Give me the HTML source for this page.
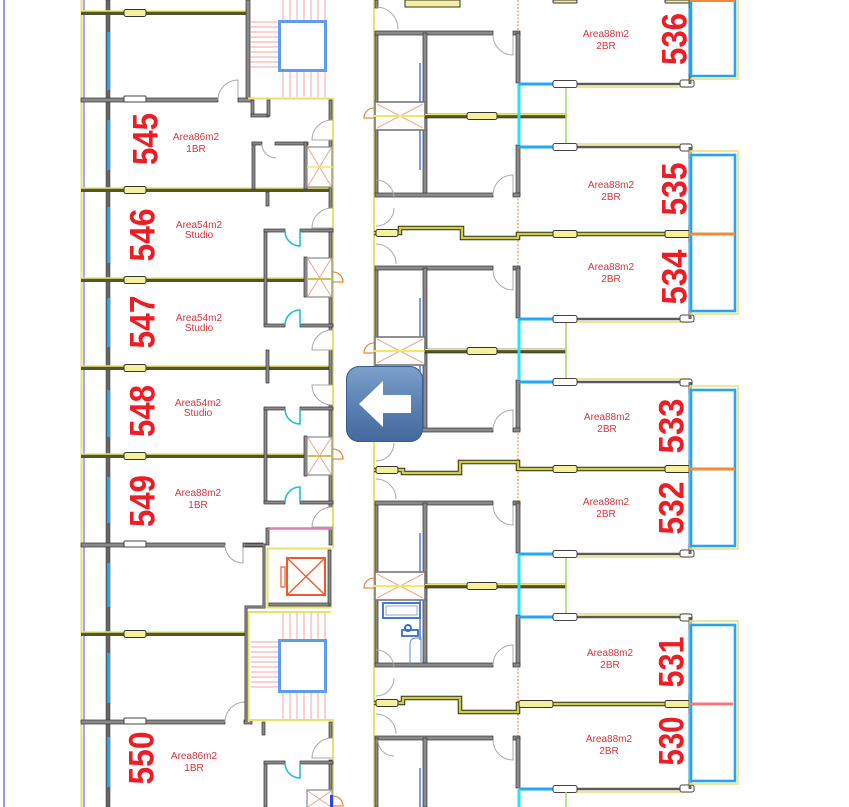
<!DOCTYPE html>
<html><head><meta charset="utf-8">
<style>
html,body{margin:0;padding:0;background:#fff;overflow:hidden;width:849px;height:807px;}
svg{display:block;}
.w{fill:#8a8a8a;stroke:#333;stroke-width:0.7;}
.door{fill:none;stroke:#aaa;stroke-width:1;}
.cyd{fill:none;stroke:#1ec0d6;stroke-width:1.6;}
.od{fill:none;stroke:#ef8a3a;stroke-width:1.3;}
.num{font-family:"Liberation Sans",sans-serif;font-weight:bold;font-size:35px;fill:#ee1c24;}
.ar{font-family:"Liberation Sans",sans-serif;font-size:10px;fill:#d8343c;text-anchor:middle;}
.win{fill:#f4f19a;stroke:#333;stroke-width:1;}
.winw{fill:#fff;stroke:#444;stroke-width:1;}
.rl{stroke:#f4a4a4;stroke-width:1;}
</style></head><body>
<svg width="849" height="807" viewBox="0 0 849 807" xmlns="http://www.w3.org/2000/svg">
<defs>
<linearGradient id="bg" x1="0" y1="0" x2="0" y2="1">
<stop offset="0" stop-color="#7ea1cb"/><stop offset="0.5" stop-color="#5a82b4"/><stop offset="1" stop-color="#44699c"/>
</linearGradient>
<g id="mod">
  <rect class="w" x="375" y="33" width="3" height="69"/>
  <rect class="w" x="375" y="130" width="3" height="65"/>
  <rect class="w" x="375" y="31" width="118" height="4"/>
  <path class="door" d="M493,35 A20,20 0 0 0 513,55 V35"/>
  <rect class="w" x="513" y="31" width="7" height="4"/>
  <rect class="w" x="423" y="33" width="4" height="162"/>
  <line x1="420" y1="63" x2="420" y2="170" stroke="#7c9ee0" stroke-width="2"/>
  <rect x="375" y="102" width="50" height="28" fill="#fff" stroke="#777" stroke-width="1.6"/>
  <line x1="377" y1="104" x2="423" y2="128" stroke="#f2a68a" stroke-width="1"/>
  <line x1="423" y1="104" x2="377" y2="128" stroke="#f2a68a" stroke-width="1"/>
  <line x1="374" y1="116" x2="425" y2="116" stroke="#f0ea60" stroke-width="2"/>
  <rect x="425" y="114" width="141" height="4" fill="#55552a" stroke="#2e2e14" stroke-width="0.6"/>
  <line x1="425" y1="114.5" x2="566" y2="114.5" stroke="#ebe66a" stroke-width="1.2"/>
  <rect class="win" x="467" y="112.5" width="30" height="7" rx="2"/>
  <line x1="519" y1="114" x2="519" y2="118" stroke="#333" stroke-width="3"/>
  <path class="od" d="M374,108 A10,10 0 0 0 364,118 L374,118"/>
  <rect class="w" x="516" y="33" width="4" height="50"/>
  <rect class="w" x="516" y="145" width="4" height="50"/>
  <line x1="519" y1="83" x2="519" y2="145" stroke="#22e2ff" stroke-width="3"/>
  <line x1="518" y1="195" x2="518" y2="268" stroke="#f6bfa0" stroke-width="2" stroke-dasharray="2,1.5"/>
  <line x1="566" y1="86" x2="566" y2="146" stroke="#a8dc70" stroke-width="1.6"/>
  <rect class="w" x="375" y="193" width="118" height="4"/>
  <path class="door" d="M493,195 A20,20 0 0 1 513,175 V195"/>
  <rect class="w" x="513" y="193" width="7" height="4"/>
  <path class="door" d="M376,180 A18,18 0 0 1 394,198"/>
  <path class="door" d="M376,226 A18,18 0 0 0 394,208"/>
  <path class="door" d="M376,244 A20,20 0 0 1 396,264"/>
</g>
<g id="pair">
  <line x1="566" y1="-3" x2="690" y2="-3" stroke="#e3e070" stroke-width="1.5"/>
  <line x1="519" y1="0" x2="553" y2="0" stroke="#1ea8ff" stroke-width="3"/>
  <line x1="577" y1="0" x2="690" y2="0" stroke="#5a5a5a" stroke-width="2.5"/>
  <rect class="winw" x="553" y="-3.5" width="24" height="7" rx="2"/>
  <rect class="winw" x="680" y="-3" width="12" height="7" rx="2"/>
  <line x1="519" y1="172" x2="553" y2="172" stroke="#1ea8ff" stroke-width="3"/>
  <line x1="577" y1="172" x2="690" y2="172" stroke="#5a5a5a" stroke-width="2.5"/>
  <line x1="566" y1="175" x2="690" y2="175" stroke="#e3e070" stroke-width="1.5"/>
  <rect class="winw" x="553" y="168.5" width="24" height="7" rx="2"/>
  <rect class="winw" x="680" y="168" width="14" height="7" rx="2"/>
  <line x1="690" y1="0" x2="690" y2="172" stroke="#666" stroke-width="3"/>
  <rect x="688.5" y="12" width="3" height="66" fill="#1e9cff"/>
  <rect x="688.5" y="96" width="3" height="66" fill="#1e9cff"/>
  <rect x="690" y="4" width="48" height="163" fill="none" stroke="#e6e070" stroke-width="1.5"/>
  <rect x="691" y="8" width="44" height="156" fill="none" stroke="#2aa2f2" stroke-width="2.6"/>
</g>
</defs>

<rect width="849" height="807" fill="#fff"/>

<!-- ============ LEFT BLOCK ============ -->
<line x1="4" y1="0" x2="4" y2="807" stroke="#7878ea" stroke-width="1.5"/>
<line x1="81.5" y1="0" x2="81.5" y2="807" stroke="#e6e26a" stroke-width="2"/>
<line x1="84" y1="0" x2="84" y2="807" stroke="#8a8af0" stroke-width="1.5"/>
<rect x="106" y="0" width="4" height="807" fill="#666" stroke="#333" stroke-width="0.5"/>
<g fill="#1aa8ff">
<rect x="107" y="32" width="3" height="58"/>
<rect x="107" y="120" width="3" height="50"/>
<rect x="107" y="207" width="3" height="56"/>
<rect x="107" y="298" width="3" height="49"/>
<rect x="107" y="390" width="3" height="47"/>
<rect x="107" y="477" width="3" height="46"/>
<rect x="107" y="563" width="3" height="44"/>
<rect x="107" y="653" width="3" height="50"/>
<rect x="107" y="737" width="3" height="50"/>
</g>

<g>
<rect x="81" y="11" width="167" height="4" fill="#55552a"/><line x1="81" y1="11" x2="248" y2="11" stroke="#ebe66a" stroke-width="1.4"/>
<rect x="81" y="188" width="252" height="4" fill="#55552a"/><line x1="81" y1="188" x2="333" y2="188" stroke="#ebe66a" stroke-width="1.4"/>
<rect x="81" y="278" width="252" height="4" fill="#55552a"/><line x1="81" y1="278" x2="333" y2="278" stroke="#ebe66a" stroke-width="1.4"/>
<rect x="81" y="366" width="252" height="4" fill="#55552a"/><line x1="81" y1="366" x2="333" y2="366" stroke="#ebe66a" stroke-width="1.4"/>
<rect x="81" y="454" width="252" height="4" fill="#55552a"/><line x1="81" y1="454" x2="333" y2="454" stroke="#ebe66a" stroke-width="1.4"/>
<rect x="81" y="632" width="167" height="4" fill="#55552a"/><line x1="81" y1="632" x2="248" y2="632" stroke="#ebe66a" stroke-width="1.4"/>
<rect class="win" x="124" y="9.5" width="22" height="7" rx="2"/>
<rect class="win" x="124" y="186.5" width="22" height="7" rx="2"/>
<rect class="win" x="124" y="276.5" width="22" height="7" rx="2"/>
<rect class="win" x="124" y="364.5" width="22" height="7" rx="2"/>
<rect class="win" x="124" y="452.5" width="22" height="7" rx="2"/>
<rect class="win" x="124" y="630.5" width="22" height="7" rx="2"/>
</g>

<rect class="w" x="81" y="98" width="137" height="4"/>
<rect class="winw" x="124" y="96" width="22" height="6" rx="1"/>
<path class="door" d="M218,100 A20,20 0 0 1 238,80 V100"/>
<rect class="w" x="238" y="98" width="14" height="4"/>
<rect class="w" x="81" y="543" width="144" height="4"/>
<rect class="winw" x="124" y="541" width="22" height="6" rx="1"/>
<path class="door" d="M225,545 A18,18 0 0 0 243,563 V545"/>
<rect class="w" x="243" y="543" width="20" height="4"/>
<rect class="w" x="81" y="720" width="144" height="4"/>
<rect class="winw" x="124" y="718" width="22" height="6" rx="1"/>
<path class="door" d="M225,722 A20,20 0 0 1 245,702 V722"/>
<rect class="w" x="244" y="720" width="8" height="4"/>

<!-- top stair -->
<rect class="w" x="246" y="0" width="4" height="98"/>
<g class="rl">
<line x1="283" y1="0" x2="283" y2="20"/><line x1="290" y1="0" x2="290" y2="20"/><line x1="297" y1="0" x2="297" y2="20"/><line x1="304" y1="0" x2="304" y2="20"/><line x1="311" y1="0" x2="311" y2="20"/><line x1="318" y1="0" x2="318" y2="20"/><line x1="325" y1="0" x2="325" y2="20"/>
<line x1="283" y1="71" x2="283" y2="97"/><line x1="290" y1="71" x2="290" y2="97"/><line x1="297" y1="71" x2="297" y2="97"/><line x1="304" y1="71" x2="304" y2="97"/><line x1="311" y1="71" x2="311" y2="97"/><line x1="318" y1="71" x2="318" y2="97"/><line x1="325" y1="71" x2="325" y2="97"/>
<line x1="251" y1="22" x2="278" y2="22"/><line x1="251" y1="27" x2="278" y2="27"/><line x1="251" y1="32" x2="278" y2="32"/><line x1="251" y1="37" x2="278" y2="37"/><line x1="251" y1="42" x2="278" y2="42"/><line x1="251" y1="47" x2="278" y2="47"/><line x1="251" y1="52" x2="278" y2="52"/><line x1="251" y1="57" x2="278" y2="57"/><line x1="251" y1="62" x2="278" y2="62"/><line x1="251" y1="67" x2="278" y2="67"/>
</g>
<rect x="279.5" y="21.5" width="46" height="49" fill="#fff" stroke="#5d9cf0" stroke-width="3"/>
<line x1="248" y1="98.5" x2="333" y2="98.5" stroke="#e6e26a" stroke-width="2"/>

<line x1="333" y1="98" x2="333" y2="548" stroke="#e6e26a" stroke-width="2"/>
<line x1="333" y1="719" x2="333" y2="807" stroke="#e6e26a" stroke-width="2"/>

<g class="w">
<rect x="329" y="100" width="3" height="20"/>
<rect x="329" y="140" width="3" height="68"/>
<rect x="329" y="228" width="3" height="102"/>
<rect x="329" y="350" width="3" height="35"/>
<rect x="329" y="405" width="3" height="102"/>
<rect x="329" y="527" width="3" height="18"/>
<rect x="329" y="722" width="3" height="16"/>
<rect x="329" y="760" width="3" height="47"/>
</g>
<g class="door">
<path d="M332,120 A20,20 0 0 0 312,140 H332"/>
<path d="M332,208 A20,20 0 0 0 312,228 H332"/>
<path d="M332,330 A20,20 0 0 0 312,350 H332"/>
<path d="M332,405 A20,20 0 0 1 312,385 H332"/>
<path d="M332,507 A20,20 0 0 0 312,527 H332"/>
<path d="M332,738 A20,20 0 0 0 312,758 H332"/>
</g>

<!-- 545 interior -->
<rect class="w" x="251" y="100" width="3" height="16"/>
<rect class="w" x="251" y="114" width="18" height="3"/>
<rect class="w" x="267" y="100" width="3" height="16"/>
<rect class="w" x="252" y="142" width="3" height="47"/>
<rect class="w" x="252" y="142" width="10" height="3"/>
<path class="door" d="M262,144 A14,14 0 0 0 276,158"/>
<rect class="w" x="275" y="142" width="33" height="3"/>
<rect class="w" x="304" y="142" width="3" height="47"/>
<!-- 546/547 -->
<rect class="w" x="264" y="230" width="3" height="95"/>
<rect class="w" x="264" y="229" width="21" height="3"/>
<rect class="w" x="300" y="229" width="33" height="3"/>
<path class="cyd" d="M285,231 A15,15 0 0 0 300,246 V231"/>
<rect class="w" x="264" y="324" width="21" height="3"/>
<rect class="w" x="300" y="324" width="33" height="3"/>
<path class="cyd" d="M285,325 A15,15 0 0 1 300,310 V325"/>
<rect class="w" x="304" y="257" width="3" height="40"/>
<rect class="w" x="266" y="192" width="3" height="14"/>
<rect class="w" x="266" y="350" width="3" height="33"/>
<!-- 548/549 -->
<rect class="w" x="264" y="408" width="3" height="95"/>
<rect class="w" x="264" y="407" width="21" height="3"/>
<rect class="w" x="300" y="407" width="33" height="3"/>
<path class="cyd" d="M285,409 A15,15 0 0 0 300,424 V409"/>
<rect class="w" x="264" y="501" width="21" height="3"/>
<rect class="w" x="300" y="501" width="33" height="3"/>
<path class="cyd" d="M285,502 A15,15 0 0 1 300,487 V502"/>
<rect class="w" x="304" y="436" width="3" height="40"/>
<line x1="268" y1="528" x2="333" y2="528" stroke="#e27ab4" stroke-width="1.5"/>
<rect class="w" x="266" y="528" width="3" height="17"/>
<!-- 550 -->
<rect class="w" x="264" y="762" width="3" height="45"/>
<rect class="w" x="264" y="761" width="21" height="3"/>
<rect class="w" x="300" y="761" width="33" height="3"/>
<path class="cyd" d="M285,763 A15,15 0 0 0 300,778 V763"/>
<rect class="w" x="262" y="722" width="3" height="13"/>

<!-- left ducts -->
<g>
<rect x="307" y="147" width="25" height="40" fill="#fff" stroke="#888" stroke-width="1.2"/>
<line x1="308" y1="148" x2="331" y2="186" stroke="#f2a68a"/><line x1="331" y1="148" x2="308" y2="186" stroke="#f2a68a"/>
<line x1="307" y1="167" x2="333" y2="167" stroke="#f0ea60" stroke-width="1.5"/>
<rect x="307" y="258" width="25" height="39" fill="#fff" stroke="#888" stroke-width="1.2"/>
<line x1="308" y1="259" x2="331" y2="296" stroke="#f2a68a"/><line x1="331" y1="259" x2="308" y2="296" stroke="#f2a68a"/>
<line x1="307" y1="279" x2="333" y2="279" stroke="#c9c44a" stroke-width="2"/>
<rect x="307" y="437" width="25" height="38" fill="#fff" stroke="#888" stroke-width="1.2"/>
<line x1="308" y1="438" x2="331" y2="474" stroke="#f2a68a"/><line x1="331" y1="438" x2="308" y2="474" stroke="#f2a68a"/>
<line x1="307" y1="456" x2="333" y2="456" stroke="#c9c44a" stroke-width="2"/>
<path d="M307,807 V790 H332 V807" fill="#fff" stroke="#888" stroke-width="1.2"/>
<line x1="308" y1="791" x2="331" y2="807" stroke="#f2a68a"/><line x1="331" y1="791" x2="308" y2="807" stroke="#f2a68a"/>
<rect x="330" y="795" width="3" height="12" fill="#3344dd"/>
</g>
<path class="od" d="M333,272 A10,10 0 0 1 343,282 H333"/>
<path class="od" d="M333,449 A10,10 0 0 1 343,459 H333"/>
<path class="od" d="M333,796 A10,10 0 0 1 343,806 H333"/>

<!-- elevator / bottom stair -->
<line x1="268" y1="529" x2="332" y2="529" stroke="#e27ab4" stroke-width="1.5"/>
<path d="M245,545 H264 V607 H246 V722" fill="none" stroke="#444" stroke-width="3"/>
<path d="M245,545 H264 V607 H246 V722" fill="none" stroke="#999" stroke-width="1.2"/>
<rect x="267.5" y="548.5" width="63" height="59" fill="none" stroke="#e6e26a" stroke-width="2"/>
<rect class="w" x="328" y="550" width="3" height="56"/>
<rect class="w" x="269" y="603" width="60" height="3"/>
<rect x="287" y="558" width="38" height="37" fill="none" stroke="#f05a28" stroke-width="2"/>
<line x1="287" y1="558" x2="325" y2="595" stroke="#f05a28" stroke-width="1.3"/>
<line x1="325" y1="558" x2="287" y2="595" stroke="#f05a28" stroke-width="1.3"/>
<rect x="281" y="567" width="4" height="20" fill="none" stroke="#f05a28" stroke-width="1.2"/>
<line x1="248" y1="612" x2="331" y2="612" stroke="#e6e26a" stroke-width="2"/>
<line x1="248.5" y1="612" x2="248.5" y2="722" stroke="#e6e26a" stroke-width="2"/>
<line x1="248" y1="720" x2="333" y2="720" stroke="#e6e26a" stroke-width="2"/>
<g class="rl">
<line x1="283" y1="613" x2="283" y2="639"/><line x1="290" y1="613" x2="290" y2="639"/><line x1="297" y1="613" x2="297" y2="639"/><line x1="304" y1="613" x2="304" y2="639"/><line x1="311" y1="613" x2="311" y2="639"/><line x1="318" y1="613" x2="318" y2="639"/><line x1="325" y1="613" x2="325" y2="639"/>
<line x1="283" y1="693" x2="283" y2="719"/><line x1="290" y1="693" x2="290" y2="719"/><line x1="297" y1="693" x2="297" y2="719"/><line x1="304" y1="693" x2="304" y2="719"/><line x1="311" y1="693" x2="311" y2="719"/><line x1="318" y1="693" x2="318" y2="719"/><line x1="325" y1="693" x2="325" y2="719"/>
<line x1="251" y1="642" x2="278" y2="642"/><line x1="251" y1="647" x2="278" y2="647"/><line x1="251" y1="652" x2="278" y2="652"/><line x1="251" y1="657" x2="278" y2="657"/><line x1="251" y1="662" x2="278" y2="662"/><line x1="251" y1="667" x2="278" y2="667"/><line x1="251" y1="672" x2="278" y2="672"/><line x1="251" y1="677" x2="278" y2="677"/><line x1="251" y1="682" x2="278" y2="682"/><line x1="251" y1="687" x2="278" y2="687"/>
</g>
<rect x="279.5" y="640.5" width="46" height="51" fill="#fff" stroke="#5d9cf0" stroke-width="3"/>

<!-- ============ RIGHT BLOCK ============ -->
<line x1="374" y1="0" x2="374" y2="807" stroke="#e6e26a" stroke-width="2"/>
<rect x="405" y="0" width="55" height="7" fill="#f4f19a" stroke="#333" stroke-width="1"/>
<rect class="w" x="375" y="0" width="3" height="8"/>
<path class="door" d="M376,7 A22,22 0 0 1 398,29"/>
<line x1="518" y1="0" x2="518" y2="33" stroke="#f6bfa0" stroke-width="2" stroke-dasharray="2,1.5"/>

<use href="#mod"/>
<use href="#mod" y="235"/>
<use href="#mod" y="470"/>

<!-- partial module at bottom -->
<rect class="w" x="375" y="736" width="118" height="4"/>
<path class="door" d="M493,740 A20,20 0 0 0 513,760 V740"/>
<rect class="w" x="513" y="736" width="7" height="4"/>
<rect class="w" x="375" y="738" width="3" height="69"/>
<path class="door" d="M378,740 A16,16 0 0 0 394,756"/>
<rect class="w" x="423" y="738" width="4" height="69"/>
<line x1="420" y1="768" x2="420" y2="807" stroke="#7c9ee0" stroke-width="2"/>
<rect class="w" x="516" y="738" width="4" height="50"/>

<!-- stepped party walls -->
<g fill="none">
<path d="M374,233 H400 V228 H462 V238 H518 V234 H690" stroke="#2e2e14" stroke-width="4.5"/>
<path d="M374,233 H400 V228 H462 V238 H518 V234 H690" stroke="#cfcb4c" stroke-width="2.5"/>
<path d="M374,470 H403 V473 H460 V462 H518 V469 H690" stroke="#2e2e14" stroke-width="4.5"/>
<path d="M374,470 H403 V473 H460 V462 H518 V469 H690" stroke="#cfcb4c" stroke-width="2.5"/>
<path d="M374,703 H403 V698 H460 V712 H518 V704 H690" stroke="#2e2e14" stroke-width="4.5"/>
<path d="M374,703 H403 V698 H460 V712 H518 V704 H690" stroke="#cfcb4c" stroke-width="2.5"/>
</g>
<rect class="win" x="376" y="229.5" width="22" height="7" rx="2"/>
<rect class="win" x="376" y="466.5" width="22" height="7" rx="2"/>
<rect class="win" x="376" y="699.5" width="22" height="7" rx="2"/>
<rect class="win" x="553" y="230.5" width="24" height="7" rx="2"/>
<rect class="win" x="665" y="230.5" width="25" height="7" rx="2"/>
<rect class="win" x="553" y="465.5" width="24" height="7" rx="2"/>
<rect class="win" x="665" y="465.5" width="25" height="7" rx="2"/>
<rect class="win" x="519" y="700.5" width="34" height="7" rx="2"/>
<rect class="win" x="665" y="700.5" width="25" height="7" rx="2"/>
<rect class="win" x="553" y="0" width="24" height="3" rx="1"/>
<rect class="win" x="665" y="0" width="25" height="3" rx="1"/>

<!-- top partial unit (536) -->
<line x1="519" y1="84" x2="553" y2="84" stroke="#1ea8ff" stroke-width="3"/>
<line x1="577" y1="84" x2="690" y2="84" stroke="#5a5a5a" stroke-width="2.5"/>
<line x1="566" y1="87" x2="690" y2="87" stroke="#e3e070" stroke-width="1.5"/>
<rect class="winw" x="553" y="80.5" width="24" height="7" rx="2"/>
<rect class="winw" x="680" y="80" width="14" height="7" rx="2"/>
<line x1="690" y1="0" x2="690" y2="84" stroke="#666" stroke-width="3"/>
<rect x="688.5" y="8" width="3" height="66" fill="#1e9cff"/>
<path d="M690,79 H738 V0" fill="none" stroke="#e6e070" stroke-width="1.5"/>
<path d="M691,0 V76 H735 V0" fill="none" stroke="#2aa2f2" stroke-width="2.6"/>

<use href="#pair" y="147"/>
<use href="#pair" y="382"/>
<use href="#pair" y="617"/>
<line x1="690" y1="1" x2="735" y2="1" stroke="#f28a3c" stroke-width="2"/>
<line x1="690" y1="234" x2="735" y2="234" stroke="#f28a3c" stroke-width="3"/>
<line x1="690" y1="469" x2="735" y2="469" stroke="#f28a3c" stroke-width="3"/>
<line x1="690" y1="704" x2="733" y2="704" stroke="#f07a7a" stroke-width="3"/>
<line x1="519" y1="789" x2="519" y2="807" stroke="#22e2ff" stroke-width="3"/>
<line x1="566" y1="792" x2="566" y2="807" stroke="#a8dc70" stroke-width="1.6"/>

<!-- bath fixture -->
<rect x="383" y="603" width="37" height="15" fill="none" stroke="#4a7ad0" stroke-width="2"/>
<rect x="386" y="606" width="31" height="9" fill="none" stroke="#8aaae0" stroke-width="1"/>
<circle cx="408" cy="628" r="3" fill="none" stroke="#3a6ad0" stroke-width="2"/>
<rect x="402" y="630" width="16" height="6" fill="none" stroke="#3a6ad0" stroke-width="1.8"/>
<path d="M410,665 V645 Q410,638 416,638 H421 V665" fill="none" stroke="#6a8ad0" stroke-width="1"/>

<!-- ============ LABELS ============ -->
<g class="num" text-anchor="middle" dominant-baseline="central">
<text transform="translate(146,139) rotate(-90)" textLength="52" lengthAdjust="spacingAndGlyphs">545</text>
<text transform="translate(143,235) rotate(-90)" textLength="53" lengthAdjust="spacingAndGlyphs">546</text>
<text transform="translate(143,322) rotate(-90)" textLength="53" lengthAdjust="spacingAndGlyphs">547</text>
<text transform="translate(143,411) rotate(-90)" textLength="52" lengthAdjust="spacingAndGlyphs">548</text>
<text transform="translate(143,501) rotate(-90)" textLength="52" lengthAdjust="spacingAndGlyphs">549</text>
<text transform="translate(142,758) rotate(-90)" textLength="53" lengthAdjust="spacingAndGlyphs">550</text>
<text transform="translate(675,39) rotate(-90)" textLength="52" lengthAdjust="spacingAndGlyphs">536</text>
<text transform="translate(675,189) rotate(-90)" textLength="53" lengthAdjust="spacingAndGlyphs">535</text>
<text transform="translate(675,277) rotate(-90)" textLength="55" lengthAdjust="spacingAndGlyphs">534</text>
<text transform="translate(672,426) rotate(-90)" textLength="55" lengthAdjust="spacingAndGlyphs">533</text>
<text transform="translate(672,508) rotate(-90)" textLength="53" lengthAdjust="spacingAndGlyphs">532</text>
<text transform="translate(672,662) rotate(-90)" textLength="51" lengthAdjust="spacingAndGlyphs">531</text>
<text transform="translate(672,741) rotate(-90)" textLength="49" lengthAdjust="spacingAndGlyphs">530</text>
</g>
<g class="ar">
<text x="196" y="140">Area86m2</text><text x="196" y="152">1BR</text>
<text x="199" y="228">Area54m2</text><text x="199" y="238">Studio</text>
<text x="199" y="321">Area54m2</text><text x="199" y="331">Studio</text>
<text x="198" y="406">Area54m2</text><text x="198" y="416">Studio</text>
<text x="198" y="496">Area88m2</text><text x="198" y="508">1BR</text>
<text x="194" y="759">Area86m2</text><text x="194" y="771">1BR</text>
<text x="606" y="37">Area88m2</text><text x="606" y="49">2BR</text>
<text x="611" y="188">Area88m2</text><text x="611" y="200">2BR</text>
<text x="611" y="270">Area88m2</text><text x="611" y="282">2BR</text>
<text x="607" y="420">Area88m2</text><text x="607" y="432">2BR</text>
<text x="606" y="505">Area88m2</text><text x="606" y="517">2BR</text>
<text x="610" y="656">Area88m2</text><text x="610" y="668">2BR</text>
<text x="609" y="742">Area88m2</text><text x="609" y="754">2BR</text>
</g>

<!-- ============ ARROW BUTTON ============ -->
<rect x="346" y="366" width="77" height="76" rx="13" fill="url(#bg)"/>
<rect x="346.5" y="366.5" width="76" height="75" rx="13" fill="none" stroke="#3a5e8e" stroke-width="1"/>
<path d="M359,404 L383,381 L383,395 L411,395 L411,413 L383,413 L383,427 Z" fill="#fff"/>
</svg>
</body></html>
